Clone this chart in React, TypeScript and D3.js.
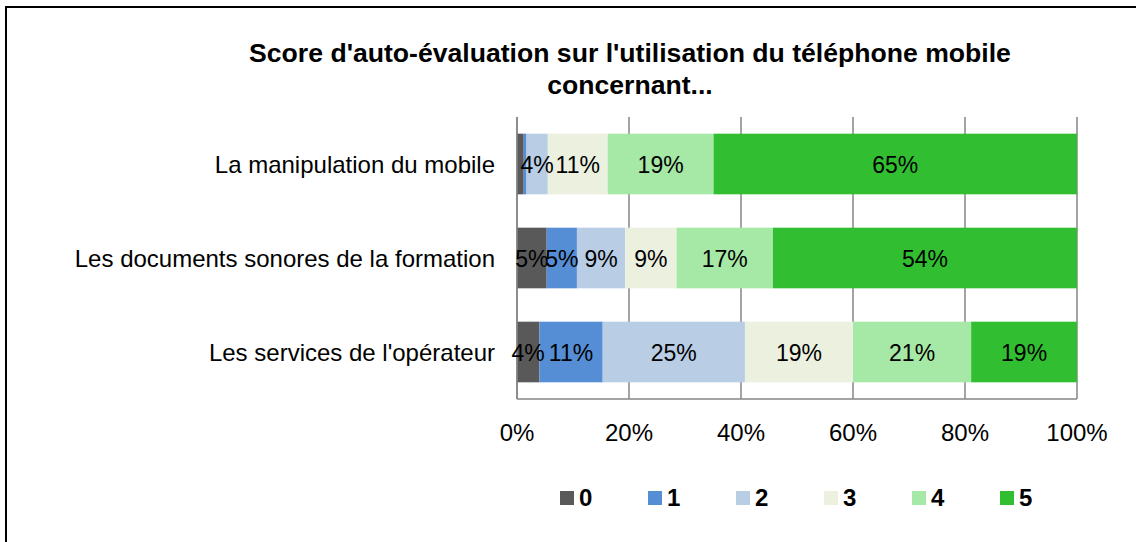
import React from 'react';
import * as d3 from 'd3';

// Chart data (percent of respondents per self-evaluation score).
const title1 = "Score d'auto-évaluation sur l'utilisation du téléphone mobile";
const title2 = 'concernant...';
const categories = [
  'La manipulation du mobile',
  'Les documents sonores de la formation',
  "Les services de l'opérateur",
];
const scoreKeys = ['0', '1', '2', '3', '4', '5'];
const score0 = [1.2, 5.3, 4.0];
const score1 = [0.5, 5.4, 11.3];
const score2 = [3.8, 8.6, 25.4];
const score3 = [10.7, 9.2, 19.3];
const score4 = [18.9, 17.2, 21.1];
const score5 = [64.9, 54.3, 18.9];
const xTicks = [0, 20, 40, 60, 80, 100];
const colors = ['#595959', '#558ed5', '#b9cde5', '#ebf0df', '#a6e8a6', '#31bf31'];

const W = 1136;
const H = 542;
const font = '"Liberation Sans", Arial, sans-serif';

const App = () => {
  const series = [score0, score1, score2, score3, score4, score5];
  const rows = categories.map((c, i) => {
    const r: Record<string, any> = { cat: c };
    scoreKeys.forEach((k, j) => (r[k] = series[j][i]));
    return r;
  });
  const stacked = d3.stack<any>().keys(scoreKeys)(rows);

  // Get the axis scales.
  const x = d3.scaleLinear().domain([0, 100]).range([517, 1077]);
  const y = d3
    .scaleBand<string>()
    .domain(categories)
    .range([117, 399])
    .paddingInner(0.355)
    .paddingOuter(0.1775);

  const legendX = d3.scaleBand<string>().domain(scoreKeys).range([553, 1081]);

  return (
    <svg
      width={W}
      height={H}
      style={{ position: 'absolute', left: 0, top: 0, background: '#fff' }}
      fontFamily={font}
    >
      <rect x={6} y={7} width={W + 20} height={H + 20} fill="#fff" stroke="#000" strokeWidth={2} />

      <text x={630} y={62} textAnchor="middle" fontSize={26.6} fontWeight="bold">
        {title1}
      </text>
      <text x={630} y={94} textAnchor="middle" fontSize={26.6} fontWeight="bold">
        {title2}
      </text>

      {/* gridlines */}
      {xTicks.map((t) => (
        <line key={t} x1={x(t)} x2={x(t)} y1={117} y2={399} stroke="#868686" strokeWidth={1.5} />
      ))}
      <line x1={x(0)} x2={x(100)} y1={399} y2={399} stroke="#868686" strokeWidth={1.5} />

      {/* bars */}
      {stacked.map((s, j) => (
        <g key={s.key} fill={colors[j]}>
          {s.map((d, i) => (
            <rect
              key={i}
              x={x(d[0])}
              y={y(categories[i])}
              width={x(d[1]) - x(d[0])}
              height={y.bandwidth()}
            />
          ))}
        </g>
      ))}
      <line x1={x(0)} x2={x(0)} y1={117} y2={399} stroke="#868686" strokeWidth={1.5} />

      {/* value labels */}
      {stacked.map((s) =>
        s.map((d, i) => {
          const v = d[1] - d[0];
          if (v < 2) return null;
          return (
            <text
              key={s.key + i}
              x={x((d[0] + d[1]) / 2)}
              y={(y(categories[i]) as number) + y.bandwidth() / 2 + 9}
              textAnchor="middle"
              fontSize={23}
              fill="#000"
            >
              {Math.round(v)}%
            </text>
          );
        })
      )}

      {/* category labels */}
      {categories.map((c) => (
        <text
          key={c}
          x={495}
          y={(y(c) as number) + y.bandwidth() / 2 + 9}
          textAnchor="end"
          fontSize={24}
        >
          {c}
        </text>
      ))}

      {/* x axis labels */}
      {xTicks.map((t) => (
        <text key={t} x={x(t)} y={441} textAnchor="middle" fontSize={24}>
          {t}%
        </text>
      ))}

      {/* legend */}
      {scoreKeys.map((k, j) => (
        <g key={k} transform={`translate(${legendX(k)},0)`}>
          <rect x={7} y={491} width={14} height={14} fill={colors[j]} />
          <text x={26} y={506} fontSize={24} fontWeight="bold">
            {k}
          </text>
        </g>
      ))}
    </svg>
  );
};

export default App;
